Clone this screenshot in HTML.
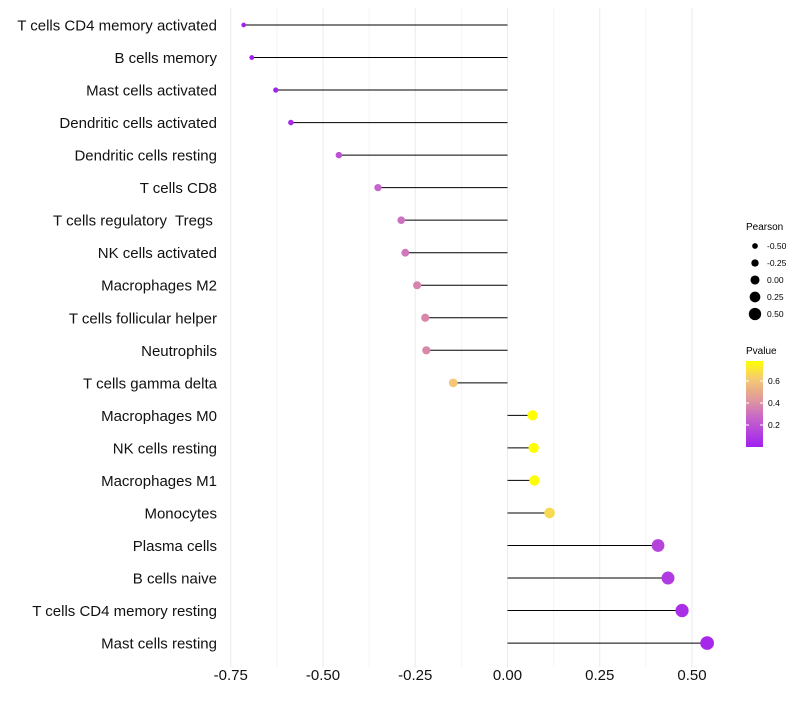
<!DOCTYPE html>
<html><head><meta charset="utf-8"><style>
body{margin:0;background:#fff;font-family:"Liberation Sans",Arial,sans-serif}
svg text{font-family:"Liberation Sans",Arial,sans-serif;white-space:pre}
</style></head><body>
<svg id="chart" width="800" height="700">
<defs><linearGradient id="pg" x1="0" y1="1" x2="0" y2="0">
<stop offset="0" stop-color="#a020f0"/><stop offset="0.35" stop-color="#c868c8"/><stop offset="0.55" stop-color="#e0989c"/><stop offset="0.8" stop-color="#f6cc70"/><stop offset="1" stop-color="#ffff00"/></linearGradient></defs>
<g id="grid"></g><g id="marks"></g><g id="ylabels"></g><g id="xlabels"></g>
<g>
<text x="746" y="230" font-size="10">Pearson</text>
<g id="sizeleg"></g></g>
<g>
<text x="746" y="354" font-size="10">Pvalue</text>
<rect x="746" y="361" width="17" height="86" fill="url(#pg)"/>
<g id="colleg"></g></g>
</svg>
<script>
const categories=["T cells CD4 memory activated","B cells memory","Mast cells activated","Dendritic cells activated","Dendritic cells resting","T cells CD8","T cells regulatory  Tregs ","NK cells activated","Macrophages M2","T cells follicular helper","Neutrophils","T cells gamma delta","Macrophages M0","NK cells resting","Macrophages M1","Monocytes","Plasma cells","B cells naive","T cells CD4 memory resting","Mast cells resting"];
const pearson=[-0.715,-0.693,-0.628,-0.587,-0.457,-0.351,-0.288,-0.277,-0.245,-0.223,-0.220,-0.147,0.068,0.071,0.073,0.114,0.408,0.435,0.473,0.541];
const pvalue=[0.02,0.02,0.03,0.06,0.2,0.27,0.31,0.33,0.37,0.38,0.38,0.6,0.77,0.77,0.76,0.66,0.15,0.12,0.08,0.05];
const xTicks=[-0.75,-0.5,-0.25,0,0.25,0.5];
const xTickLabels=["-0.75","-0.50","-0.25","0.00","0.25","0.50"];
const sizeLegVals=[-0.5,-0.25,0,0.25,0.5];
const sizeLegLabels=["-0.50","-0.25","0.00","0.25","0.50"];
const colLegVals=[0.2,0.4,0.6];
const colLegLabels=["0.2","0.4","0.6"];
const NS="http://www.w3.org/2000/svg";
const X=v=>507.5+v*369;
const Y=i=>25+i*32.53;
const R=v=>4.9+3.6*v;
const stops=[[0,[160,32,240]],[0.35,[200,104,200]],[0.55,[224,152,156]],[0.8,[246,204,112]],[1,[255,255,0]]];
function col(p){let t=(p-0.02)/0.75;t=Math.max(0,Math.min(1,t));for(let i=1;i<stops.length;i++){if(t<=stops[i][0]){const a=stops[i-1],b=stops[i];const f=(t-a[0])/(b[0]-a[0]);return`rgb(${a[1].map((c,k)=>Math.round(c+(b[1][k]-c)*f)).join(",")})`;}}return"rgb(255,255,0)";}
function mk(t,a,p){const e=document.createElementNS(NS,t);for(const k in a)e.setAttribute(k,a[k]);p.appendChild(e);return e;}
const grid=document.getElementById("grid");
for(let v=-0.875;v<=0.626;v+=0.125){if(X(v)<215||X(v)>720)continue;const l=mk("line",{x1:X(v),x2:X(v),y1:8,y2:667,stroke:Math.abs(v/0.25-Math.round(v/0.25))<1e-6?"#ebebeb":"#f4f4f4","stroke-width":1},grid);

}
const marks=document.getElementById("marks"),yl=document.getElementById("ylabels"),xl=document.getElementById("xlabels");
categories.forEach((c,i)=>{
const ln=mk("line",{x1:X(0),x2:X(pearson[i]),y1:Y(i),y2:Y(i),stroke:"#000","stroke-width":1},marks);


const d=mk("circle",{cx:X(pearson[i]),cy:Y(i),r:R(pearson[i]),fill:col(pvalue[i])},marks);


const t=mk("text",{x:217,y:Y(i)+5.5,"text-anchor":"end","font-size":"15",fill:"#111"},yl);t.textContent=c;


});
xTicks.forEach((v,i)=>{const t=mk("text",{x:X(v),y:680,"text-anchor":"middle","font-size":"15",fill:"#111"},xl);t.textContent=xTickLabels[i];

});
const sl=document.getElementById("sizeleg");
sizeLegVals.forEach((v,i)=>{const y=246+i*17;const c=mk("circle",{cx:755,cy:y,r:R(v)*0.92,fill:"#000"},sl);


const t=mk("text",{x:767,y:y+3,"font-size":"8.5"},sl);t.textContent=sizeLegLabels[i];

});
const cl=document.getElementById("colleg");
colLegVals.forEach((v,i)=>{const y=447-(v/0.2)*22+0;const t=mk("text",{x:768,y:y+3,"font-size":"8.5"},cl);t.textContent=colLegLabels[i];


mk("line",{x1:746,x2:749,y1:y,y2:y,stroke:"#fff"},cl);mk("line",{x1:760,x2:763,y1:y,y2:y,stroke:"#fff"},cl);});
</script>
</body></html>
